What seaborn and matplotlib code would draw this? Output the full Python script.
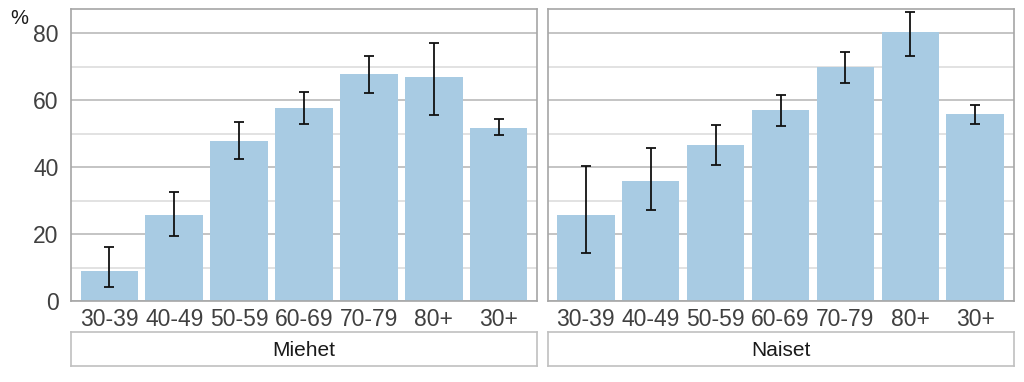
import numpy as np
import pandas as pd
import seaborn as sns
import matplotlib.pyplot as plt
from matplotlib.ticker import MultipleLocator

# data
age_groups = ['30-39', '40-49', '50-59', '60-69', '70-79', '80+', '30+']
panels = ['Miehet', 'Naiset']

miehet_val = [9.0, 25.6, 47.9, 57.5, 67.7, 66.9, 51.7]
miehet_low = [4.2, 19.4, 42.4, 52.8, 62.0, 55.6, 49.6]
miehet_high = [16.2, 32.7, 53.4, 62.5, 73.2, 76.9, 54.5]

naiset_val = [25.8, 35.9, 46.7, 57.0, 69.9, 80.2, 55.8]
naiset_low = [14.3, 27.3, 40.6, 52.4, 65.1, 73.2, 53.0]
naiset_high = [40.4, 45.6, 52.6, 61.6, 74.4, 86.2, 58.5]

bar_color = '#a8cbe3'
frame_color = '#a6a6a6'

sns.set_theme(style='white')
plt.rcParams['font.family'] = ['Liberation Sans', 'DejaVu Sans']

fig = plt.figure(figsize=(10.24, 3.82), dpi=100)

series = [
    (miehet_val, miehet_low, miehet_high),
    (naiset_val, naiset_low, naiset_high),
]
lefts = [71 / 1024, 547.5 / 1024]
width = 466 / 1024

for i, (name, (vals, lows, highs)) in enumerate(zip(panels, series)):
    ax = fig.add_axes([lefts[i], 1 - 301 / 382, width, 292 / 382])
    df = pd.DataFrame({'ika': age_groups, 'osuus': vals})
    sns.barplot(data=df, x='ika', y='osuus', color=bar_color, saturation=1,
                width=0.885, errorbar=None, ax=ax, zorder=2, linewidth=0)
    vals_a = np.array(vals)
    yerr = [vals_a - np.array(lows), np.array(highs) - vals_a]
    ax.errorbar(np.arange(len(age_groups)), vals_a, yerr=yerr, fmt='none',
                ecolor='#111111', elinewidth=1.3, capsize=3.5, capthick=1.3,
                zorder=3)
    ax.set_xlim(-0.59, 6.59)
    ax.set_ylim(0, 87.2)
    ax.yaxis.set_major_locator(MultipleLocator(20))
    ax.yaxis.set_minor_locator(MultipleLocator(10))
    ax.grid(which='major', axis='y', color='#c4c4c4', linewidth=1.4, zorder=0)
    ax.grid(which='minor', axis='y', color='#e2e2e2', linewidth=1.4, zorder=0)
    ax.set_axisbelow(True)
    ax.set_xlabel('')
    ax.set_ylabel('')
    ax.tick_params(axis='x', length=0, labelsize=16.5, labelcolor='#404040', pad=5)
    ax.tick_params(axis='y', which='both', length=0, labelsize=16.5,
                   labelcolor='#404040', pad=9)
    if i > 0:
        ax.tick_params(axis='y', labelleft=False)
    for sp in ax.spines.values():
        sp.set_visible(True)
        sp.set_color(frame_color)
        sp.set_linewidth(1.2)

    # strip box with the panel name
    sx = fig.add_axes([lefts[i], 1 - 366 / 382, width, 34 / 382])
    sx.set_xticks([])
    sx.set_yticks([])
    for sp in sx.spines.values():
        sp.set_color('#c0c0c0')
        sp.set_linewidth(1.2)
    sx.text(0.5, 0.47, name, ha='center', va='center', fontsize=15,
            color='#1a1a1a', transform=sx.transAxes)

fig.text(10 / 1024, 1 - 19 / 382, '%', fontsize=14.5, color='#1a1a1a',
         ha='left', va='center')

plt.savefig('out.png', dpi=100)
